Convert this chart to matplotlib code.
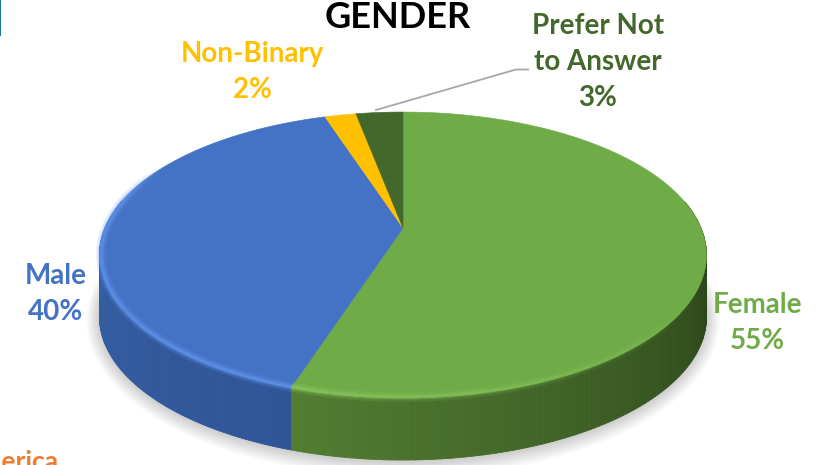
import numpy as np
import matplotlib
matplotlib.use('Agg')
import matplotlib.pyplot as plt
from matplotlib.collections import PolyCollection, LineCollection
from matplotlib.colors import to_rgb

plt.rcParams['font.family'] = ['Lato', 'DejaVu Sans']

# Data
labels = ['Female', 'Male', 'Non-Binary', 'Prefer Not\nto Answer']
shares = [55, 40, 2, 3]
colors = ['#6FAB47', '#4472C4', '#FFC000', '#43682B']
side_light = ['#527E32', '#2F5597', '#C79500', '#2F4A1E']
side_dark = ['#2A4319', '#3C6AB2', '#C79500', '#2F4A1E']
rim = ['#8CCB62', '#6498F0', '#FFC000', '#43682B']

# Tilted disc: centre of the wedges, radii and perspective
cx, cy = 403, 228
rx, ry = 298, 137.9
persp = 0.189
depth = 62


def project(t, r=1.0, drop=0.0):
    u = r * np.sin(t)
    v = -r * np.cos(t)
    w = 1 - persp * v
    return cx + rx * u / w, cy + ry * v / w + drop


def mix(a, b, f):
    a, b = np.array(to_rgb(a)), np.array(to_rgb(b))
    return tuple(a + (b - a) * f)


fig = plt.figure(figsize=(8.38, 4.65), dpi=100)
ax = fig.add_axes([0, 0, 1, 1])
ax.set_xlim(0, 838)
ax.set_ylim(465, 0)
ax.axis('off')

# Soft shadow under the pie
tt = np.linspace(0, 2 * np.pi, 300)
for grow in np.linspace(13, 1, 12):
    sx, sy = project(tt, 1.0, depth + 1)
    sx = cx + (sx - cx) * (1 + grow / rx)
    sy = cy + depth + (sy - cy - depth) * (1 + grow / ry)
    ax.fill(sx, sy, color='#000000', alpha=0.016, lw=0, zorder=1)

# Wedge angles, clockwise from 12 o'clock
edges = np.radians(np.cumsum([0] + shares) * 3.6)
horizon = np.pi / 2 + np.arcsin(persp) + 0.02

# Side wall, only the front part can be seen
for i in range(len(shares)):
    t0, t1 = edges[i], edges[i + 1]
    ts = np.linspace(t0, t1, 200)
    ts = ts[np.abs(ts - np.pi) < horizon]
    if len(ts) < 2:
        continue
    quads, fc = [], []
    for a, b in zip(ts[:-1], ts[1:]):
        xa, ya = project(a)
        xb, yb = project(b)
        quads.append([(xa, ya), (xb, yb), (xb, yb + depth), (xa, ya + depth)])
        f = abs(a - t0) / max(t1 - t0, 1e-6)
        if i == 0:
            # green gets darker going from the seam to the right hand side
            f = np.clip((t1 - a) / 1.7, 0, 1)
        fc.append(mix(side_light[i], side_dark[i], f))
    ax.add_collection(PolyCollection(quads, facecolors=fc, edgecolors=fc, linewidths=0.6, zorder=2))

# Top face
for i in range(len(shares)):
    ts = np.linspace(edges[i], edges[i + 1], 150)
    x, y = project(ts)
    ax.fill(np.r_[cx, x], np.r_[cy, y], color=colors[i], lw=0.4, zorder=3)

# Bevel along the front rim of the top face, fades out at its ends
for i, lo, hi in [(0, edges[1] - 1.5, edges[1]), (1, edges[1], edges[1] + 1.75)]:
    ts = np.linspace(lo, hi, 240)
    if i == 1:
        fade = np.minimum(1, np.linspace(6, 0, len(ts)))
    else:
        fade = np.linspace(0, 1, len(ts))
    for lw, al in [(7, 0.2), (4, 0.35), (2, 0.45)]:
        x, y = project(ts, 0.995)
        pts = np.column_stack([x, y])
        segs = np.stack([pts[:-1], pts[1:]], axis=1)
        rgba = [(*to_rgb(rim[i]), al * f) for f in fade[:-1]]
        ax.add_collection(LineCollection(segs, colors=rgba, linewidths=lw, capstyle='butt', zorder=4))

# Leader line to the small slice
ax.plot([376, 516, 528], [110, 69.5, 69.5], color='#A6A6A6', lw=1.3, zorder=5)

# Text
ax.text(398, 17, 'GENDER', fontsize=26, fontweight='bold', color='black', ha='center', va='center', zorder=6)
ax.text(757, 323, labels[0] + '\n%d%%' % shares[0], fontsize=20, fontweight='bold', color=colors[0], ha='center', va='center', linespacing=1.47, zorder=6)
ax.text(56, 294, labels[1] + '\n%d%%' % shares[1], fontsize=20, fontweight='bold', color=colors[1], ha='center', va='center', linespacing=1.47, zorder=6)
ax.text(252, 72, labels[2] + '\n%d%%' % shares[2], fontsize=20, fontweight='bold', color=colors[2], ha='center', va='center', linespacing=1.47, zorder=6)
ax.text(598, 62, labels[3] + '\n%d%%' % shares[3], fontsize=20, fontweight='bold', color=colors[3], ha='center', va='center', linespacing=1.47, zorder=6)
ax.text(58, 470, 'America', fontsize=19, fontweight='bold', color='#ED7D31', ha='right', va='baseline', zorder=6)

# Sliver of the neighbouring slide at the top left
ax.plot([0, 0], [0, 35], color='#1B75A8', lw=1.5, zorder=6)

fig.savefig('out.png', dpi=100)
